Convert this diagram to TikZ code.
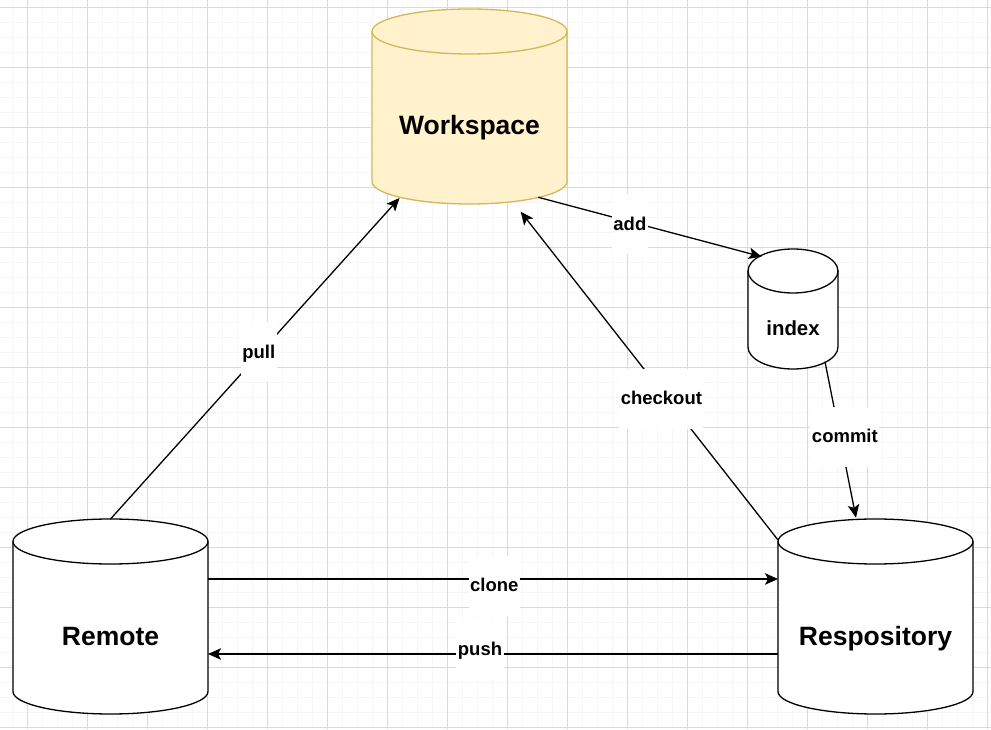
\documentclass[tikz,border=0pt]{standalone}
\usepackage{fontspec}
\setmainfont{Liberation Sans}
\usetikzlibrary{arrows.meta,calc}
\definecolor{gridminor}{RGB}{246,246,246}
\definecolor{gridmajor}{RGB}{218,218,218}
\definecolor{wsfill}{HTML}{FFF2CC}
\definecolor{wsline}{HTML}{D6B656}
\newcommand\drawcyl[4]{%
  \path[#4] ([yshift=-#3]#1.north west) -- ([yshift=#3]#1.south west)
    arc[start angle=180,end angle=360,x radius=#2,y radius=#3]
    -- ([yshift=-#3]#1.north east)
    arc[start angle=0,end angle=180,x radius=#2,y radius=#3] -- cycle;
  \draw[#4,fill=none] ([yshift=-#3]#1.north west)
    arc[start angle=180,end angle=360,x radius=#2,y radius=#3];
}
\begin{document}
\begin{tikzpicture}[x=1pt,y=1pt,
  cylbox/.style={rectangle, inner sep=0pt, outer sep=0pt, draw=none},
  cylplain/.style={draw=black, fill=white, line width=1.3pt},
  cylyellow/.style={draw=wsline, fill=wsfill, line width=1.3pt},
  bigtext/.style={font=\fontsize{26.5}{30}\selectfont\bfseries, anchor=base, inner sep=0pt},
  idxtext/.style={font=\fontsize{20.4}{24}\selectfont\bfseries, anchor=base, inner sep=0pt},
  conn/.style={draw=black, line width=1.3pt, -{Stealth[length=13pt,width=11.5pt,inset=3pt]}},
  lbl/.style={fill=white, font=\fontsize{18.5}{22}\selectfont\bfseries, text height=13.5pt, text depth=1.5pt, inner xsep=1.5pt, inner ysep=22.5pt}
]
\useasboundingbox (0,0) rectangle (991,729);
\fill[white] (0,0) rectangle (991,729);
% grid
\foreach \i in {0,...,65} \draw[gridminor, line width=1pt] ({12.3+15*\i},0) -- ++(0,729);
\foreach \i in {0,...,48} \draw[gridminor, line width=1pt] (0,{721.7-15*\i}) -- ++(991,0);
\foreach \i in {0,...,16} \draw[gridmajor, line width=1pt] ({27.3+60*\i},0) -- ++(0,729);
\foreach \i in {0,...,12} \draw[gridmajor, line width=1pt] (0,{721.7-60*\i}) -- ++(991,0);

% cylinder frames
\node[cylbox, minimum width=195pt, minimum height=195pt] (ws) at (469.5,622.5) {};
\node[cylbox, minimum width=195pt, minimum height=195pt] (remote) at (110.5,112.5) {};
\node[cylbox, minimum width=195pt, minimum height=195pt] (repo) at (875.5,112.5) {};
\node[cylbox, minimum width=90pt, minimum height=120pt] (idx) at (793,420) {};

\drawcyl{ws}{97.5pt}{22.5pt}{cylyellow}
\drawcyl{remote}{97.5pt}{22.5pt}{cylplain}
\drawcyl{repo}{97.5pt}{22.5pt}{cylplain}
\drawcyl{idx}{45pt}{22pt}{cylplain}

\node[bigtext] (ws-t) at ([yshift=-28.5pt]ws.center) {Workspace};
\node[bigtext] (remote-t) at ([yshift=-28.5pt]remote.center) {Remote};
\node[bigtext] (repo-t) at ([yshift=-28.5pt]repo.center) {Respository};
\node[idxtext] (idx-t) at ([yshift=-27pt]idx.center) {index};

% connectors
\draw[conn] (remote.north) -- node[lbl,pos=0.52,xshift=-2pt] (l-pull) {pull} ([xshift=-70pt,yshift=6pt]ws.south);
\draw[conn] ([xshift=68.8pt,yshift=6.7pt]ws.south) -- node[lbl,pos=0.41,yshift=-2.5pt] (l-add) {add} ([xshift=-31.3pt,yshift=-7.7pt]idx.north);
\draw[conn] ([yshift=-21pt]repo.north west) -- node[lbl,pos=0.43,xshift=-6pt] (l-checkout) {checkout} ([xshift=51.2pt,yshift=-7.7pt]ws.south);
\draw[conn] ([xshift=32pt,yshift=7.3pt]idx.south) -- node[lbl,pos=0.48,xshift=5pt] (l-commit) {commit} ([xshift=-19.5pt,yshift=1.3pt]repo.north);
\draw[conn] ([yshift=37.5pt]remote.east) -- node[lbl,pos=0.5,xshift=1.3pt,yshift=-6.7pt] (l-clone) {clone} ([yshift=37.5pt]repo.west);
\draw[conn] ([yshift=-37.5pt]repo.west) -- node[lbl,pos=0.5,xshift=-13pt,yshift=5pt] (l-push) {push} ([yshift=-37.5pt]remote.east);
\end{tikzpicture}
\end{document}
